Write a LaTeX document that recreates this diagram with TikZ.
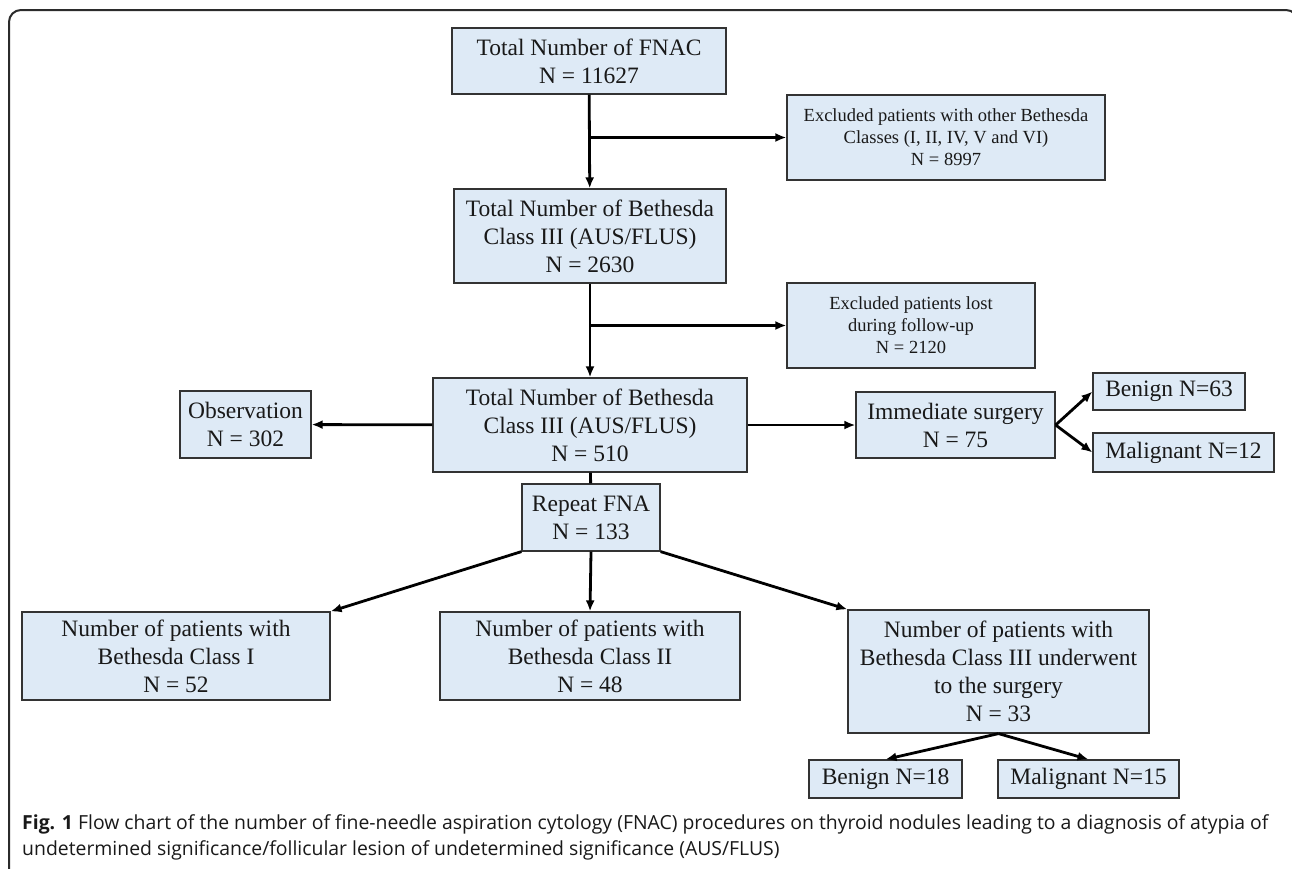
\documentclass[tikz,border=0pt]{standalone}
\usepackage{fontspec}
\setmainfont{Liberation Serif}
\newfontfamily\capfont{Open Sans}
\usetikzlibrary{arrows.meta}
\definecolor{boxblue}{HTML}{DEEAF6}
\definecolor{framegray}{HTML}{2B2B2B}

\tikzset{
  box/.style={draw=black!80, line width=1.2pt, fill=boxblue, align=center, inner sep=0pt,
    text=black!90, font=\fontsize{23.5}{28}\selectfont},
  smallbox/.style={box, font=\fontsize{18.5}{22}\selectfont},
  arr/.style={line width=2.8pt, -{Latex[length=11pt,width=9pt]}},
  captext/.style={anchor=base west, inner sep=0pt, text=black!90, font=\capfont\fontsize{19.4}{26}\selectfont},
}

\begin{document}
\begin{tikzpicture}[x=1pt,y=-1pt]
        \useasboundingbox (0,0) rectangle (1292,868);
        % frame
        \draw[line width=2pt, framegray, rounded corners=12pt] (9,900) -- (9,10) -- (1298,10) -- (1298,900);

        \node[box, minimum width=274pt, minimum height=66pt] (fnac) at (589,61) {Total Number of FNAC\\N = 11627};
        \node[smallbox, minimum width=318pt, minimum height=85pt] (excl1) at (946,137.5) {Excluded patients with other Bethesda\\Classes (I, II, IV, V and VI)\\N = 8997};
        \node[box, minimum width=272pt, minimum height=94pt] (tot1) at (590,236) {Total Number of Bethesda\\Class III (AUS/FLUS)\\N = 2630};
        \node[smallbox, minimum width=248pt, minimum height=85pt] (excl2) at (911,325.5) {Excluded patients lost\\during follow-up\\N = 2120};
        \node[box, minimum width=314pt, minimum height=94pt] (tot2) at (590,425) {Total Number of Bethesda\\Class III (AUS/FLUS)\\N = 510};
        \node[box, minimum width=131pt, minimum height=67pt] (obs) at (245.5,424.5) {Observation\\N = 302};
        \node[box, minimum width=199pt, minimum height=66pt] (imm) at (955.5,425) {Immediate surgery\\N = 75};
        \node[box, minimum width=152pt, minimum height=37pt] (ben1) at (1169,391.5) {Benign N=63};
        \node[box, minimum width=181pt, minimum height=39pt] (mal1) at (1183.5,452.5) {Malignant N=12};
        \node[box, minimum width=138pt, minimum height=67pt] (rep) at (591,517.5) {Repeat FNA\\N = 133};
        \node[box, minimum width=308pt, minimum height=88pt] (cl1) at (176,656) {Number of patients with\\Bethesda Class I\\N = 52};
        \node[box, minimum width=300pt, minimum height=88pt] (cl2) at (590,656) {Number of patients with\\Bethesda Class II\\N = 48};
        \node[box, minimum width=301pt, minimum height=123pt] (cl3) at (998.5,671.5) {Number of patients with\\Bethesda Class III underwent\\to the surgery\\N = 33};
        \node[box, minimum width=153pt, minimum height=38pt] (ben2) at (885.5,779) {Benign N=18};
        \node[box, minimum width=181pt, minimum height=38pt] (mal2) at (1088.5,779) {Malignant N=15};

        \coordinate (j1) at (fnac.south |- excl1.west);
        \coordinate (j2) at (tot1.south |- excl2.west);

        \draw[arr] (fnac) -- (tot1);
        \draw[arr] (j1) -- (excl1);
        \draw[arr] (tot1) -- (tot2);
        \draw[arr] (j2) -- (excl2);
        \draw[arr] (tot2) -- (obs);
        \draw[arr] (tot2) -- (imm);
        \draw[arr] (imm.east) -- (ben1.west);
        \draw[arr] (imm.east) -- (mal1.west);
        \draw[line width=2.8pt] (tot2) -- (rep);
        \draw[arr] (rep.south west) -- (cl1.north east);
        \draw[arr] (rep.south) -- (cl2.north);
        \draw[arr] (rep.south east) -- (cl3.north west);
        \draw[arr] (cl3.south) -- (ben2.north);
        \draw[arr] (cl3.south) -- (mal2.north);

        % caption
        \node[captext] (cap1) at (22,829) {\textbf{Fig. 1} Flow chart of the number of fine-needle aspiration cytology (FNAC) procedures on thyroid nodules leading to a diagnosis of atypia of};
        \node[captext] (cap2) at (22,855) {undetermined significance/follicular lesion of undetermined significance (AUS/FLUS)};
\end{tikzpicture}
\end{document}
